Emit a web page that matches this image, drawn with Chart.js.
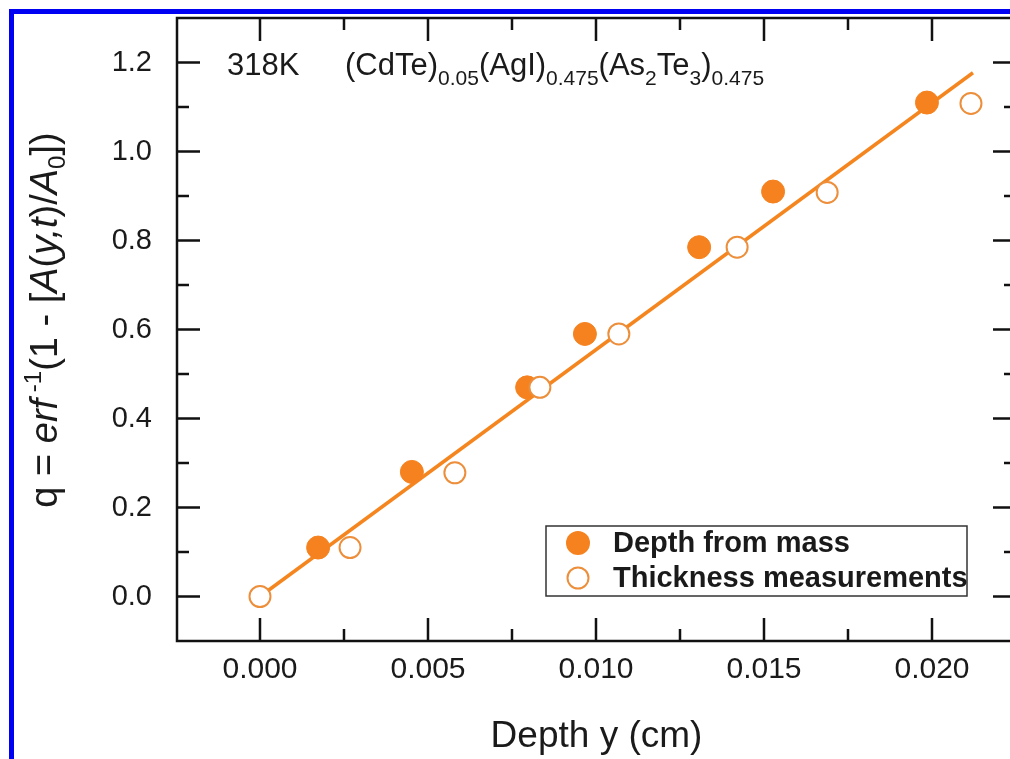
<!DOCTYPE html>
<html>
<head>
<meta charset="utf-8">
<script src="https://cdn.jsdelivr.net/npm/chart.js@4/dist/chart.umd.min.js"></script>
<style>
html,body{margin:0;padding:0;background:#fff;overflow:hidden;width:1010px;height:759px;}
#wrap{position:absolute;left:0;top:0;width:1030px;height:759px;}
#frame{position:absolute;left:9px;top:9px;width:1100px;height:900px;border:5px solid #0000f2;box-sizing:border-box;pointer-events:none;}
</style>
</head>
<body>
<div id="wrap"><canvas id="c"></canvas></div>
<div id="frame"></div>
<script>
// ---- data ----
const massDepth  = [0.00173, 0.00452, 0.00795, 0.00967, 0.01307, 0.01527, 0.01985];
const massQ      = [0.110,   0.280,   0.470,   0.590,   0.785,   0.910,   1.110];
const thickDepth = [0.0000, 0.00268, 0.00580, 0.00833, 0.01068, 0.01420, 0.01688, 0.02116];
const thickQ     = [0.000,  0.110,   0.278,   0.470,   0.590,   0.785,   0.908,   1.108];
const fitDepth   = [0.0000, 0.02122];
const fitQ       = [0.000, 1.177];
const xTickValues  = [0.000, 0.005, 0.010, 0.015, 0.020];
const xMinorValues = [0.0025, 0.0075, 0.0125, 0.0175];
const yTickValues  = [0.0, 0.2, 0.4, 0.6, 0.8, 1.0, 1.2];
const yMinorValues = [0.1, 0.3, 0.5, 0.7, 0.9, 1.1];
const seriesNames  = ['Depth from mass', 'Thickness measurements'];
const xTitle = 'Depth y (cm)';

const FONT = "'Liberation Sans', Arial, sans-serif";
const ORANGE = '#F5821F';
const HOLLOW = '#EC8E3A';
const LINEC  = '#F5861F';
const INK = '#1a1a1a';

const pts = (xs, ys) => xs.map((x, i) => ({x: x, y: ys[i]}));

function drawRich(ctx, segs, x, y, measureOnly) {
  let cx = x;
  for (const s of segs) {
    ctx.font = (s.style || 'normal') + ' ' + (s.weight || 'normal') + ' ' + s.size + 'px ' + FONT;
    const w = ctx.measureText(s.t).width;
    if (!measureOnly) ctx.fillText(s.t, cx, y + (s.dy || 0));
    cx += w;
  }
  return cx - x;
}

const decorPlugin = {
  id: 'decor',
  afterDatasetsDraw(chart) {
    const ctx = chart.ctx;
    const {left, right, top, bottom} = chart.chartArea;
    const xs = chart.scales.x, ys = chart.scales.y;
    ctx.save();
    // frame
    ctx.strokeStyle = '#111';
    ctx.lineWidth = 2.5;
    ctx.strokeRect(left, top, right - left, bottom - top);
    // inward ticks on all sides
    const tick = (vals, len, horiz) => {
      ctx.beginPath();
      for (const v of vals) {
        if (horiz) {
          const p = xs.getPixelForValue(v);
          ctx.moveTo(p, bottom); ctx.lineTo(p, bottom - len);
          ctx.moveTo(p, top); ctx.lineTo(p, top + len);
        } else {
          const p = ys.getPixelForValue(v);
          ctx.moveTo(left, p); ctx.lineTo(left + len, p);
          ctx.moveTo(right, p); ctx.lineTo(right - len, p);
        }
      }
      ctx.stroke();
    };
    ctx.lineWidth = 2.5;
    tick(xTickValues, 23, true);
    tick(xMinorValues, 12, true);
    tick(yTickValues, 23, false);
    tick(yMinorValues, 12, false);

    // annotation text
    ctx.fillStyle = INK;
    ctx.textBaseline = 'alphabetic';
    ctx.textAlign = 'left';
    const ay = top + 57;
    drawRich(ctx, [{t: '318K', size: 31}], left + 50, ay);
    const M = 31, S = 21, SD = 10;
    drawRich(ctx, [
      {t: '(CdTe)', size: M}, {t: '0.05', size: S, dy: SD},
      {t: '(AgI)', size: M}, {t: '0.475', size: S, dy: SD},
      {t: '(As', size: M}, {t: '2', size: S, dy: SD},
      {t: 'Te', size: M}, {t: '3', size: S, dy: SD},
      {t: ')', size: M}, {t: '0.475', size: S, dy: SD}
    ], left + 168, ay);

    // y-axis title (rich text, rotated)
    const T = 38, TS = 24;
    const ySegs = [
      {t: 'q = ', size: T}, {t: 'erf', size: T, style: 'italic'},
      {t: ' -1', size: TS, dy: -16},
      {t: '(1 - [', size: T}, {t: 'A', size: T, style: 'italic'},
      {t: '(', size: T}, {t: 'y,t', size: T, style: 'italic'},
      {t: ')/', size: T}, {t: 'A', size: T, style: 'italic'},
      {t: '0', size: TS, dy: 8}, {t: '])', size: T}
    ];
    const W = drawRich(ctx, ySegs, 0, 0, true);
    ctx.save();
    ctx.translate(57, 320);
    ctx.rotate(-Math.PI / 2);
    drawRich(ctx, ySegs, -W / 2, 0);
    ctx.restore();

    // legend
    const lx = left + 369, ly = top + 508, lw = 421, lh = 70;
    ctx.lineWidth = 1.5;
    ctx.strokeStyle = '#333';
    ctx.strokeRect(lx, ly, lw, lh);
    const ds0 = chart.data.datasets[1], ds1 = chart.data.datasets[0];
    const r1 = ly + 17, r2 = ly + 52, mx = lx + 32;
    ctx.beginPath(); ctx.arc(mx, r1, 12, 0, Math.PI * 2);
    ctx.fillStyle = ds0.pointBackgroundColor; ctx.fill();
    ctx.beginPath(); ctx.arc(mx, r2, 10.5, 0, Math.PI * 2);
    ctx.fillStyle = '#fff'; ctx.fill();
    ctx.lineWidth = 2; ctx.strokeStyle = ds1.pointBorderColor; ctx.stroke();
    ctx.fillStyle = INK;
    ctx.textBaseline = 'middle';
    ctx.font = 'bold 29px ' + FONT;
    ctx.fillText(seriesNames[0], lx + 67, r1 + 1);
    ctx.fillText(seriesNames[1], lx + 67, r2 + 1);
    ctx.restore();
  }
};

new Chart(document.getElementById('c'), {
  type: 'scatter',
  data: {
    datasets: [
      {label: seriesNames[1], data: pts(thickDepth, thickQ), order: 0,
       pointRadius: 10.5, pointHoverRadius: 10.5, pointBorderWidth: 2,
       pointBackgroundColor: '#ffffff', pointBorderColor: HOLLOW, showLine: false},
      {label: seriesNames[0], data: pts(massDepth, massQ), order: 1,
       pointRadius: 11.5, pointHoverRadius: 11.5, pointBorderWidth: 1,
       pointBackgroundColor: ORANGE, pointBorderColor: ORANGE, showLine: false},
      {label: 'fit', data: pts(fitDepth, fitQ), order: 2, showLine: true,
       pointRadius: 0, borderColor: LINEC, borderWidth: 3.5, fill: false}
    ]
  },
  options: {
    responsive: true,
    maintainAspectRatio: false,
    animation: false,
    events: [],
    layout: {padding: {left: 0, top: 18, right: 14, bottom: 0}},
    plugins: {legend: {display: false}, tooltip: {enabled: false}},
    scales: {
      x: {
        type: 'linear', min: -0.00247, max: 0.0225,
        afterBuildTicks: s => { s.ticks = xTickValues.map(v => ({value: v})); },
        afterFit: s => { s.height = 118; s.paddingLeft = 0; s.paddingRight = 0; },
        grid: {display: false, drawTicks: false},
        border: {display: false},
        ticks: {font: {family: FONT, size: 30}, color: INK, padding: 11,
                maxRotation: 0, autoSkip: false, callback: v => Number(v).toFixed(3)},
        title: {display: true, text: xTitle, color: INK, font: {family: FONT, size: 37},
                padding: {top: 0, bottom: 0}}
      },
      y: {
        type: 'linear', min: -0.1, max: 1.3,
        afterBuildTicks: s => { s.ticks = yTickValues.map(v => ({value: v})); },
        afterFit: s => { s.width = 177; s.paddingTop = 0; s.paddingBottom = 0; },
        grid: {display: false, drawTicks: false},
        border: {display: false},
        ticks: {font: {family: FONT, size: 29}, color: INK, padding: 25,
                autoSkip: false, callback: v => Number(v).toFixed(1)}
      }
    }
  },
  plugins: [decorPlugin]
});
</script>
</body>
</html>
